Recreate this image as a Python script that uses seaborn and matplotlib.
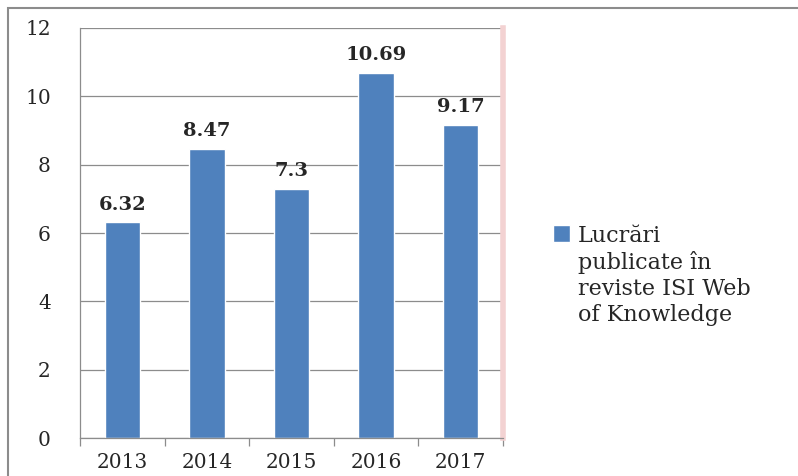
import matplotlib
matplotlib.use("Agg")
import matplotlib.pyplot as plt
import matplotlib.patches as mpatches
import seaborn as sns
import pandas as pd

# chart data
years = ["2013", "2014", "2015", "2016", "2017"]
values = [6.32, 8.47, 7.3, 10.69, 9.17]
value_labels = ["6.32", "8.47", "7.3", "10.69", "9.17"]
series_name = "Lucrări\npublicate în\nreviste ISI Web\nof Knowledge"

bar_color = "#4F81BD"
axis_gray = "#8c8c8c"

sns.set_style("white")
plt.rcParams["font.family"] = ["DejaVu Serif"]

df = pd.DataFrame({"year": years, "value": values})

fig = plt.figure(figsize=(7.98, 4.76), dpi=100)
ax = fig.add_axes([0.1003, 0.0798, 0.5300, 0.8614])

sns.barplot(data=df, x="year", y="value", color=bar_color, width=0.42,
            saturation=1, label=series_name, ax=ax)

ax.set_ylim(0, 12)
ax.set_xlim(-0.5, 4.5)
ax.set_yticks(range(0, 13, 2))
ax.yaxis.grid(True, color=axis_gray, linewidth=0.9)
ax.set_axisbelow(True)
ax.set_xlabel("")
ax.set_ylabel("")

# ticks between categories on x, outward ticks on y
ax.set_xticks([i - 0.5 for i in range(6)], minor=True)
ax.tick_params(axis="x", which="major", length=0, labelsize=14.5, pad=11)
ax.tick_params(axis="x", which="minor", length=6, width=0.9, color=axis_gray,
               direction="out")
ax.tick_params(axis="y", length=9, width=0.9, color=axis_gray, direction="out",
               labelsize=14.5, pad=12)
ax.tick_params(bottom=True, which="both")

for side in ["left", "bottom"]:
    ax.spines[side].set_color(axis_gray)
    ax.spines[side].set_linewidth(0.9)
ax.spines["top"].set_visible(False)
ax.spines["right"].set_color("#f3d2d2")
ax.spines["right"].set_linewidth(4)

ax.bar_label(ax.containers[0], labels=value_labels, padding=6,
             fontsize=14, fontweight="bold")

leg = ax.legend(loc="upper left", bbox_to_anchor=(0.682, 0.545),
                bbox_transform=fig.transFigure, frameon=False, fontsize=16,
                handlelength=0.75, handleheight=0.75, handletextpad=0.35,
                borderaxespad=0)
for t in leg.get_texts():
    t.set_linespacing(1.22)
# put the legend square next to the first text line
for col in leg._legend_handle_box.get_children():
    for row in col.get_children():
        row.align = "top"

# outer chart border
fig.patches.append(mpatches.Rectangle((8 / 798, -0.05), 1.1, (476 - 8) / 476 + 0.05,
                                      transform=fig.transFigure, fill=False,
                                      edgecolor=axis_gray, linewidth=1.5))

fig.savefig("out.png", dpi=100)
